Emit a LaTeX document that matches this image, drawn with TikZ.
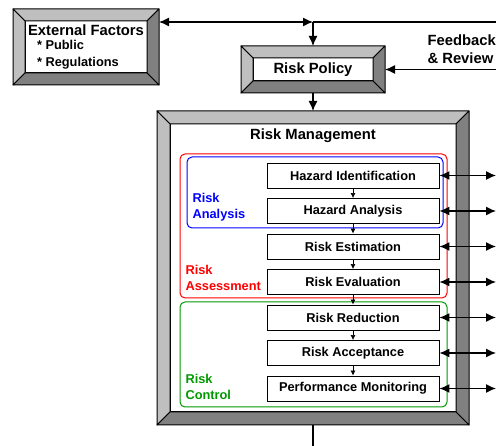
\documentclass[tikz,border=0pt]{standalone}
\usepackage{fontspec}
\setmainfont{Liberation Sans}
\usetikzlibrary{arrows.meta}

\newcommand{\bigfont}{\fontsize{14.8}{18}\selectfont\bfseries}
\newcommand{\smallfont}{\fontsize{12.8}{16}\selectfont\bfseries}

% bevelled frame round a node, #1 node, #2 bevel width
\newcommand{\bevel}[2]{%
  \path (#1.north west) coordinate (bo1) ++(#2,-#2) coordinate (bi1)
        (#1.north east) coordinate (bo2) ++(-#2,-#2) coordinate (bi2)
        (#1.south east) coordinate (bo3) ++(-#2,#2) coordinate (bi3)
        (#1.south west) coordinate (bo4) ++(#2,#2) coordinate (bi4);
  \draw[bevlight] (bo1) -- (bo2) -- (bi2) -- (bi1) -- cycle;
  \draw[bevlight] (bo1) -- (bi1) -- (bi4) -- (bo4) -- cycle;
  \draw[bevdark] (bo2) -- (bo3) -- (bi3) -- (bi2) -- cycle;
  \draw[bevdark] (bo4) -- (bo3) -- (bi3) -- (bi4) -- cycle;
}

\begin{document}
\begin{tikzpicture}[x=1pt, y=1pt,
frame/.style={draw, fill=white, line width=1pt, inner sep=0pt},
bevlight/.style={fill=black!25, draw=black, line width=1pt, line join=round},
bevdark/.style={fill=black!50, draw=black, line width=1pt, line join=round},
stepbox/.style={draw, fill=white, line width=0.9pt, minimum width=172, minimum height=25, inner sep=0pt, font=\smallfont},
flow/.style={line width=1.3pt},
group/.style={line width=1pt, rounded corners=5pt},
grouplabel/.style={anchor=west, align=left, font=\smallfont}]

\useasboundingbox (0,0) rectangle (496,-446);
\coordinate (edge) at (496,0);
\coordinate (jn) at (313,-22);

% frames
\node[frame, outer sep=12pt, minimum width=122, minimum height=52, align=left, font=\smallfont] (ext) at (86,-47)
  {{\bigfont External Factors}\\[-2pt]\hspace*{9pt}* Public\\[1pt]\hspace*{9pt}* Regulations};
\bevel{ext}{12}
\node[frame, outer sep=12pt, minimum width=120, minimum height=23, font=\bigfont] (pol) at (313,-69.5) {Risk Policy};
\bevel{pol}{12}
\node[frame, outer sep=13pt, minimum width=286, minimum height=288] (rm) at (313,-268) {};
\bevel{rm}{13}
\node[font=\bigfont] (rmtitle) at (313,-136) {Risk Management};

\node[anchor=west, align=left, font=\bigfont] (fb) at (424,-49) {Feedback\\\& Review};

% groups
\draw[group, red] (180,-154) rectangle (447,-298);
\draw[group, blue] (187,-157) rectangle (443,-228);
\draw[group, green!60!black] (180,-302) rectangle (447,-407);
\node[grouplabel, blue] (ana) at (189,-207) {Risk\\Analysis};
\node[grouplabel, red] (ass) at (182,-278) {Risk\\Assessment};
\node[grouplabel, green!60!black] (ctl) at (182,-386.5) {Risk\\Control};

% steps
\foreach \nm/\txt [count=\i] in {hid/Hazard Identification, han/Hazard Analysis, rest/Risk Estimation,
  reva/Risk Evaluation, rred/Risk Reduction, racc/Risk Acceptance, pmon/Performance Monitoring}
  \node[stepbox] (\nm) at (353,{-175.5-35.5*(\i-1)}) {\txt};
\foreach \a/\b in {hid/han, han/rest, rest/reva, reva/rred, rred/racc, racc/pmon}
  \draw[-{Latex[length=5pt,width=5pt]}, line width=0.7pt] (\a.south) -- (\b.north);
\foreach \nm in {hid, han, rest, reva, rred, racc, pmon}
  \draw[flow, {Latex[length=10pt,width=9pt]}-{Latex[length=10pt,width=9pt]}] (\nm.east) -- (\nm.east -| edge);

% connectors
\draw[flow, {Latex[length=10pt,width=9pt]}-{Latex[length=10pt,width=9pt]}] (ext.east |- jn) -- (jn);
\draw[flow] (jn) -- (jn -| edge);
\draw[flow, -{Latex[length=10pt,width=9pt]}] (jn) -- (pol.north);
\draw[flow, -{Latex[length=10pt,width=9pt]}] (pol.east -| edge) -- (pol.east);
\draw[flow, -{Latex[length=10pt,width=9pt]}] (pol.south) -- (rm.north);
\draw[flow] (rm.south) -- (rm.south |- 0,-446);

\end{tikzpicture}
\end{document}
